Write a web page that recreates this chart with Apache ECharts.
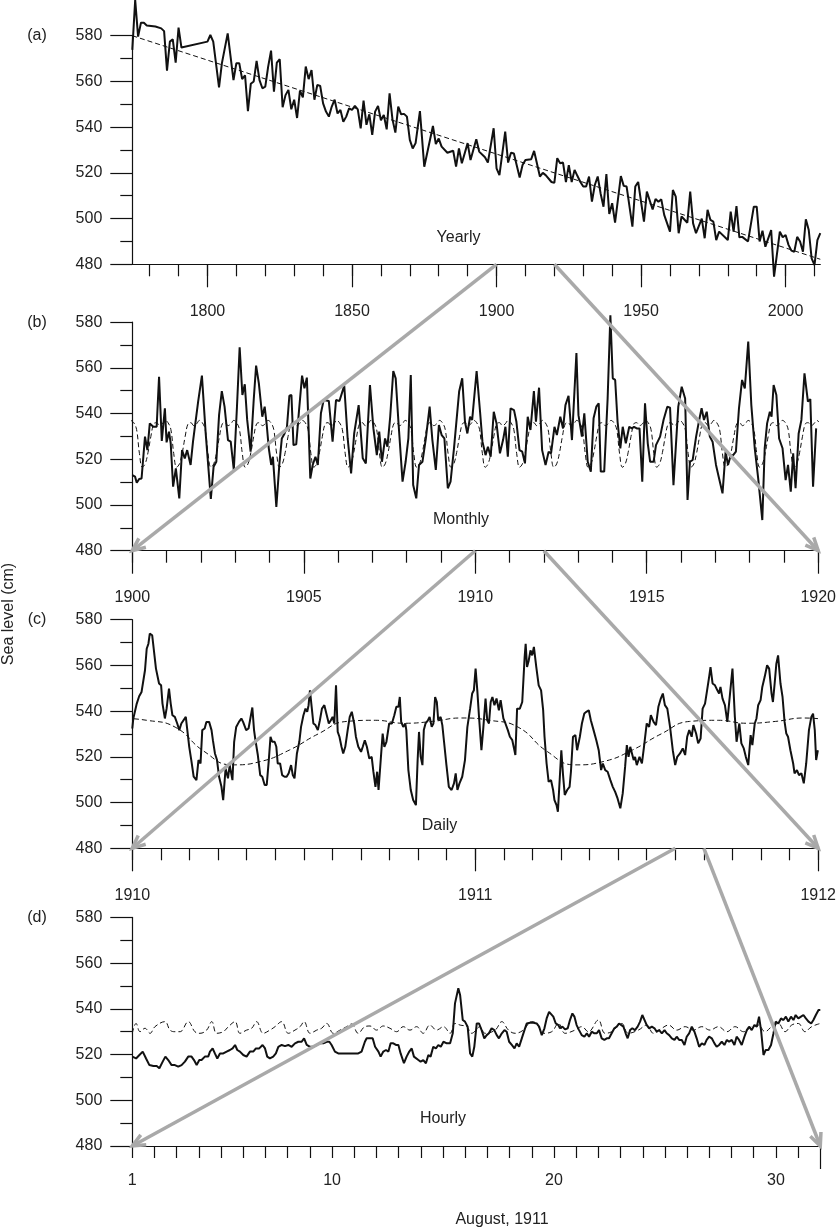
<!DOCTYPE html>
<html>
<head>
<meta charset="utf-8">
<script src="https://cdn.jsdelivr.net/npm/echarts@6/dist/echarts.min.js"></script>
<style>
  html, body { margin: 0; padding: 0; background: #fff; }
  #chart { width: 839px; height: 1231px; }
</style>
</head>
<body>
<div id="chart"></div>
<script>
// ---- data ----
// (a) yearly mean sea level, [year, cm]
var yearly = [
  [1774,573.8],[1775,595.6],[1776,579.6],[1777,585.7],[1778,585.7],[1779,584.5],[1782,584],[1784,583.2],
  [1785,582],[1786,564.7],[1787,577.4],[1788,578.4],[1789,568.2],[1790,583.5],[1791,574.8],[1800,577.4],
  [1801,580.3],[1802,577.4],[1804,557.4],[1805,568],[1807,581],[1809,560.6],[1810,568],[1811,568],
  [1812,561],[1813,562.7],[1814,547],[1815,559],[1816,560],[1817,569],[1818,560.6],[1819,557],
  [1820,557.7],[1821,566.5],[1822,573.5],[1823,555.5],[1824,568.2],[1825,569.7],[1826,548.7],[1827,554],
  [1828,556.3],[1829,547.8],[1830,552],[1831,544],[1832,556],[1833,553],[1834,566.5],[1835,561],
  [1836,565],[1837,552],[1838,558.5],[1839,558],[1840,550.4],[1841,546.8],[1842,544.6],[1843,549],
  [1844,552],[1845,546],[1846,547.5],[1847,542.4],[1848,544.6],[1849,548.2],[1850,547.5],[1851,549.3],
  [1852,547.8],[1853,539.5],[1854,551.6],[1855,541],[1856,545.6],[1857,536.6],[1858,546.8],[1859,549.3],
  [1860,543],[1861,545.3],[1862,539],[1863,554.8],[1864,543.4],[1865,537.6],[1866,549],[1867,545.6],
  [1868,545.8],[1869,544.6],[1870,534.4],[1871,530.7],[1872,533],[1873.5,547],[1875,522.7],[1878,540.5],
  [1879,532.6],[1880,535],[1881,531.5],[1883,528.8],[1885,529.7],[1886,522.7],[1887,530.7],[1888,524.2],
  [1890,533],[1891,525.6],[1893,534.7],[1894,529.3],[1896,526.8],[1897,524.5],[1899,539.5],[1900,522],
  [1901,519],[1903,538],[1904,524.5],[1905,528.8],[1906,528.5],[1908,518],[1909,523.4],[1910,525.6],
  [1912,526],[1913,529.6],[1915,518.4],[1916,520],[1917,519],[1919,516],[1920,515.6],[1921,526.4],
  [1922,524.2],[1923,524.5],[1924,516],[1925,523.4],[1926,516],[1927,521.3],[1928,518.6],[1929,516],
  [1930,514],[1931,514],[1932,518.4],[1933,507.4],[1934,514.7],[1935,518.4],[1936,511],[1937,505.2],
  [1938,519.5],[1939,502],[1940,506.7],[1941,498.2],[1943,518.6],[1944,514.3],[1945,514],[1947,496.5],
  [1948,514],[1949,516],[1951,498.7],[1952,511.8],[1954,504],[1955,508.6],[1956,507.4],[1957,508.4],
  [1958,501.6],[1960,494.3],[1961,512.5],[1962,509.6],[1963,493.6],[1964,500.9],[1966,498.2],[1967,511.8],
  [1968,497.9],[1969,493.6],[1971,500],[1972,491.4],[1973,503.8],[1974,499.4],[1975,498.7],[1976,490.6],
  [1977,494.3],[1980,490.6],[1981,503],[1982,494.3],[1983,505.5],[1984,491.8],[1985,492],[1987,490],
  [1989,505.2],[1990,505.2],[1991,490],[1992,494.7],[1993,487.7],[1995,495],[1996,474.6],[1998,494.3],
  [1999,491.8],[2000,492.8],[2001,488.5],[2002,486],[2003,485.5],[2004,492],[2005,490],[2006,485.5],
  [2007,499.7],[2008,495],[2009,482.6],[2010,479.7],[2011,490.6],[2012,493.6]
];
var yearlyTrend = [[1774,580],[2012,482.2]];

// (b) monthly means 1900-1920, [year, cm]
var monthly = [
  [1900.00,513.1],[1900.08,512.4],[1900.13,509.7],[1900.20,511.4],[1900.27,511.6],[1900.37,529.9],[1900.44,524.0],[1900.51,535.7],
  [1900.61,534.2],[1900.71,534.2],[1900.78,556.1],[1900.86,528.0],[1900.95,542.3],[1901.00,527.4],[1901.07,532.1],[1901.12,527.0],
  [1901.19,508.0],[1901.27,516.0],[1901.37,502.9],[1901.45,524.0],[1901.53,520.4],[1901.60,524.0],[1901.70,517.5],[1901.77,527.7],
  [1901.92,545.2],[1902.03,556.6],[1902.14,531.3],[1902.29,502.6],[1902.37,516.7],[1902.45,518.9],[1902.53,539.3],[1902.61,549.8],
  [1902.69,543.0],[1902.79,528.4],[1902.87,527.7],[1902.96,515.3],[1903.05,542.3],[1903.13,569.0],[1903.21,548.1],[1903.28,552.8],
  [1903.35,537.2],[1903.45,523.3],[1903.54,545.9],[1903.61,561.0],[1903.69,553.2],[1903.79,538.6],[1903.86,543.0],[1903.92,535.0],
  [1903.98,524.8],[1904.05,517.5],[1904.10,521.1],[1904.20,499.2],[1904.29,518.2],[1904.36,529.1],[1904.44,531.3],[1904.51,534.2],
  [1904.58,547.8],[1904.64,548.1],[1904.70,526.2],[1904.78,526.5],[1904.85,539.3],[1904.95,556.6],[1905.02,551.0],[1905.09,555.7],
  [1905.19,511.6],[1905.26,517.5],[1905.34,521.1],[1905.41,517.5],[1905.50,540.1],[1905.58,545.9],[1905.73,545.5],[1905.84,527.7],
  [1905.94,545.9],[1906.04,545.5],[1906.18,552.2],[1906.28,529.1],[1906.38,513.8],[1906.47,531.3],[1906.60,543.7],[1906.72,520.4],
  [1906.81,518.2],[1906.93,552.5],[1907.03,533.5],[1907.13,521.8],[1907.20,532.1],[1907.28,518.9],[1907.37,529.1],[1907.44,525.5],
  [1907.52,538.6],[1907.61,558.6],[1907.68,555.4],[1907.76,536.4],[1907.88,510.2],[1907.97,518.9],[1908.05,529.1],[1908.12,556.8],
  [1908.19,508.7],[1908.28,502.9],[1908.36,517.5],[1908.46,518.9],[1908.56,529.1],[1908.67,543.0],[1908.75,528.4],[1908.85,515.3],
  [1908.94,535.0],[1909.02,530.6],[1909.10,529.1],[1909.20,507.3],[1909.28,510.2],[1909.38,524.8],[1909.53,549.6],[1909.62,555.4],
  [1909.70,536.4],[1909.77,531.3],[1909.85,538.6],[1909.91,537.2],[1910.04,558.6],[1910.14,540.8],[1910.21,527.7],[1910.30,521.8],
  [1910.37,525.5],[1910.45,521.1],[1910.54,540.8],[1910.62,535.7],[1910.72,522.6],[1910.81,528.4],[1910.88,534.2],[1910.95,521.1],
  [1911.03,542.3],[1911.13,541.5],[1911.20,536.4],[1911.29,524.0],[1911.37,523.3],[1911.45,518.2],[1911.53,538.6],[1911.61,532.8],
  [1911.71,549.8],[1911.77,536.4],[1911.86,551.3],[1911.95,524.0],[1912.05,517.5],[1912.14,523.3],[1912.21,522.6],[1912.31,534.2],
  [1912.38,530.6],[1912.48,538.6],[1912.56,533.5],[1912.63,543.7],[1912.72,547.8],[1912.82,528.4],[1912.95,566.5],[1913.01,539.3],
  [1913.11,529.9],[1913.18,540.1],[1913.28,518.9],[1913.37,514.6],[1913.45,537.9],[1913.53,543.0],[1913.60,544.5],[1913.66,514.6],
  [1913.76,514.6],[1913.86,546.6],[1913.94,583.0],[1914.01,555.4],[1914.08,554.7],[1914.15,536.4],[1914.23,524.8],[1914.30,534.2],
  [1914.39,527.0],[1914.49,534.2],[1914.57,533.5],[1914.63,534.2],[1914.71,533.5],[1914.79,533.5],[1914.87,510.2],[1914.95,544.5],
  [1915.03,527.0],[1915.10,518.9],[1915.20,518.9],[1915.27,526.2],[1915.39,529.9],[1915.49,537.2],[1915.60,543.0],[1915.68,542.6],
  [1915.78,508.7],[1915.92,543.0],[1916.02,551.7],[1916.12,546.6],[1916.19,502.2],[1916.26,518.9],[1916.34,519.7],[1916.44,529.9],
  [1916.53,537.2],[1916.60,542.3],[1916.67,537.2],[1916.75,540.8],[1916.84,529.9],[1916.92,527.7],[1917.02,517.5],[1917.11,511.6],
  [1917.21,505.1],[1917.30,523.3],[1917.37,517.5],[1917.45,521.8],[1917.52,521.8],[1917.60,523.3],[1917.69,542.3],[1917.78,554.7],
  [1917.86,551.0],[1917.96,571.5],[1918.05,543.7],[1918.15,524.8],[1918.25,511.6],[1918.37,493.4],[1918.44,524.8],[1918.51,535.7],
  [1918.59,540.8],[1918.64,538.6],[1918.70,552.5],[1918.78,548.1],[1918.86,529.1],[1918.96,524.8],[1919.05,510.9],[1919.12,517.5],
  [1919.20,505.8],[1919.27,522.6],[1919.34,507.3],[1919.43,531.3],[1919.51,537.2],[1919.60,557.6],[1919.70,545.2],[1919.77,546.3],
  [1919.85,508.0],[1919.94,533.5]
];
// mean seasonal cycle (dashed in b and c), Jan..Dec
var seasonalCycle = [536, 533, 522.5, 516.5, 518, 523, 530, 535.5, 536, 534.7, 535.5, 537];

// (c) daily means 1910-1911, [year, cm]
var daily = [
  [1910.000,532.4],[1910.003,536.8],[1910.013,543.3],[1910.020,546.5],[1910.027,548.4],[1910.032,549.1],[1910.037,557.9],[1910.042,567.3],
  [1910.047,569.5],[1910.051,573.9],[1910.058,573.2],[1910.063,573.9],[1910.069,558.6],[1910.073,557.9],[1910.078,552.1],[1910.084,551.3],
  [1910.088,543.3],[1910.095,536.8],[1910.100,541.1],[1910.107,549.9],[1910.112,543.3],[1910.117,538.2],[1910.124,537.5],[1910.131,534.6],
  [1910.137,531.7],[1910.143,534.6],[1910.148,533.9],[1910.156,537.5],[1910.160,536.8],[1910.166,524.4],[1910.172,518.6],[1910.179,511.3],
  [1910.187,509.8],[1910.193,518.6],[1910.199,517.1],[1910.204,531.7],[1910.211,532.4],[1910.216,535.3],[1910.224,535.3],[1910.231,531.7],
  [1910.235,527.3],[1910.241,521.5],[1910.247,518.6],[1910.253,511.3],[1910.260,506.9],[1910.265,501.1],[1910.269,501.1],[1910.272,514.9],
  [1910.279,510.6],[1910.284,516.4],[1910.292,509.8],[1910.297,526.6],[1910.303,533.1],[1910.311,535.3],[1910.318,536.8],[1910.323,535.3],
  [1910.328,536.0],[1910.332,531.7],[1910.339,532.4],[1910.344,533.1],[1910.350,541.6],[1910.355,531.7],[1910.359,527.3],[1910.366,520.8],
  [1910.373,512.0],[1910.379,511.3],[1910.386,507.7],[1910.392,507.7],[1910.398,518.6],[1910.403,528.8],[1910.408,526.6],[1910.415,526.6],
  [1910.420,524.4],[1910.424,517.1],[1910.431,517.1],[1910.437,512.0],[1910.444,511.3],[1910.450,511.3],[1910.456,512.8],[1910.463,516.4],
  [1910.468,512.0],[1910.473,510.6],[1910.480,521.5],[1910.487,526.6],[1910.492,533.1],[1910.499,538.2],[1910.505,541.1],[1910.510,539.7],
  [1910.514,542.6],[1910.518,549.1],[1910.523,541.9],[1910.528,534.6],[1910.534,533.9],[1910.541,531.7],[1910.547,536.0],[1910.553,541.1],
  [1910.560,542.6],[1910.566,538.9],[1910.573,534.6],[1910.579,536.0],[1910.584,537.5],[1910.589,534.6],[1910.594,551.3],[1910.599,530.9],
  [1910.604,528.8],[1910.610,524.4],[1910.615,521.5],[1910.621,524.4],[1910.628,531.7],[1910.634,537.5],[1910.640,539.7],[1910.647,534.6],
  [1910.652,528.8],[1910.659,524.4],[1910.667,522.2],[1910.672,524.4],[1910.678,527.3],[1910.684,524.4],[1910.691,519.3],[1910.698,520.0],
  [1910.703,513.5],[1910.709,506.9],[1910.714,513.5],[1910.718,505.5],[1910.725,520.0],[1910.730,530.2],[1910.735,524.4],[1910.741,526.6],
  [1910.749,534.6],[1910.757,534.6],[1910.764,538.2],[1910.770,541.9],[1910.776,541.9],[1910.780,546.2],[1910.784,535.3],[1910.790,533.1],
  [1910.796,534.6],[1910.799,531.7],[1910.805,514.2],[1910.812,505.5],[1910.819,501.1],[1910.827,498.9],[1910.832,518.6],[1910.836,530.9],
  [1910.841,520.0],[1910.846,516.4],[1910.850,531.7],[1910.855,534.6],[1910.862,536.0],[1910.867,537.5],[1910.873,533.1],[1910.878,534.6],
  [1910.883,546.2],[1910.888,544.0],[1910.892,536.0],[1910.899,537.5],[1910.904,533.9],[1910.909,526.6],[1910.916,516.4],[1910.923,506.9],
  [1910.931,505.5],[1910.938,508.4],[1910.943,512.8],[1910.948,505.5],[1910.954,508.4],[1910.962,511.3],[1910.970,518.6],[1910.977,533.0],
  [1910.985,541.1],[1910.991,547.7],[1910.996,549.1],[1911.001,558.6],[1911.006,549.1],[1911.011,537.5],[1911.018,522.9],[1911.023,531.7],
  [1911.030,545.5],[1911.035,536.0],[1911.040,534.6],[1911.045,544.0],[1911.050,546.2],[1911.056,542.6],[1911.062,545.5],[1911.069,540.4],
  [1911.074,544.8],[1911.082,536.8],[1911.088,534.6],[1911.095,531.7],[1911.101,528.8],[1911.108,527.3],[1911.113,523.7],[1911.117,520.8],
  [1911.122,541.1],[1911.130,541.1],[1911.137,544.0],[1911.144,563.7],[1911.147,569.5],[1911.151,559.3],[1911.156,562.2],[1911.161,566.6],
  [1911.166,564.4],[1911.171,568.1],[1911.178,559.3],[1911.185,551.3],[1911.192,549.1],[1911.198,540.4],[1911.202,528.8],[1911.208,517.1],
  [1911.214,509.1],[1911.221,509.8],[1911.227,505.5],[1911.231,501.1],[1911.237,498.9],[1911.241,496.0],[1911.246,495.3],[1911.251,522.9],
  [1911.256,512.0],[1911.261,503.3],[1911.268,505.5],[1911.275,506.9],[1911.279,513.5],[1911.285,528.8],[1911.292,529.5],[1911.297,522.9],
  [1911.305,528.8],[1911.311,534.6],[1911.318,539.0],[1911.324,539.7],[1911.331,540.4],[1911.337,536.0],[1911.345,531.7],[1911.353,527.3],
  [1911.360,522.9],[1911.367,514.2],[1911.372,517.1],[1911.379,514.2],[1911.386,513.5],[1911.394,509.8],[1911.401,506.9],[1911.408,504.7],
  [1911.415,501.8],[1911.423,497.5],[1911.430,504.0],[1911.437,515.7],[1911.442,525.1],[1911.447,520.0],[1911.452,524.4],[1911.457,521.5],
  [1911.462,518.6],[1911.466,520.0],[1911.471,516.4],[1911.479,520.0],[1911.486,517.1],[1911.492,524.4],[1911.500,534.6],[1911.507,533.1],
  [1911.512,538.2],[1911.520,535.3],[1911.527,533.9],[1911.534,541.9],[1911.541,545.5],[1911.547,547.7],[1911.553,542.6],[1911.560,541.1],
  [1911.568,533.1],[1911.576,522.9],[1911.583,516.4],[1911.589,520.0],[1911.597,521.5],[1911.605,523.7],[1911.612,520.8],[1911.618,528.8],
  [1911.624,531.7],[1911.631,528.8],[1911.636,533.9],[1911.644,530.2],[1911.650,525.9],[1911.657,528.0],[1911.663,541.1],[1911.670,543.3],
  [1911.676,549.1],[1911.682,555.0],[1911.686,559.3],[1911.692,552.1],[1911.699,551.3],[1911.706,549.1],[1911.711,547.7],[1911.715,550.6],
  [1911.721,545.5],[1911.728,542.6],[1911.735,535.3],[1911.742,546.2],[1911.750,558.6],[1911.757,537.5],[1911.762,526.6],[1911.770,534.6],
  [1911.776,525.9],[1911.783,523.7],[1911.789,520.0],[1911.796,516.4],[1911.803,529.5],[1911.808,525.1],[1911.815,534.6],[1911.820,536.8],
  [1911.825,542.6],[1911.832,544.8],[1911.837,550.6],[1911.844,555.0],[1911.851,560.1],[1911.857,558.6],[1911.864,547.7],[1911.868,544.0],
  [1911.873,552.1],[1911.878,560.8],[1911.883,564.4],[1911.890,552.1],[1911.896,546.2],[1911.902,535.3],[1911.907,530.2],[1911.912,528.8],
  [1911.919,522.9],[1911.927,517.1],[1911.931,512.8],[1911.938,514.2],[1911.944,512.0],[1911.951,512.8],[1911.958,508.4],[1911.965,517.1],
  [1911.973,531.7],[1911.980,537.5],[1911.985,538.9],[1911.990,531.7],[1911.994,518.6],[1911.999,522.9]
];

// (d) hourly values, August 1911, [day, cm]
var hourly = [
  [1.00,519.1],[1.17,518.3],[1.32,519.8],[1.47,521.3],[1.62,518.3],[1.77,515.4],[1.95,515.0],[2.10,515.0],[2.22,514.0],[2.37,516.9],
  [2.49,519.1],[2.62,517.6],[2.77,515.4],[2.92,515.4],[3.07,514.7],[3.22,515.4],[3.37,516.9],[3.52,519.1],[3.67,519.1],[3.78,517.6],
  [3.90,515.4],[4.02,517.6],[4.12,517.6],[4.27,519.1],[4.42,519.1],[4.50,521.3],[4.62,522.7],[4.72,520.5],[4.83,518.3],[4.95,520.5],
  [5.10,520.5],[5.25,521.3],[5.40,522.0],[5.52,522.7],[5.63,524.2],[5.73,522.0],[5.85,521.3],[6.00,519.8],[6.15,519.1],[6.30,521.3],
  [6.45,521.3],[6.57,522.7],[6.72,522.7],[6.87,524.2],[6.98,522.7],[7.08,519.1],[7.20,518.3],[7.35,519.1],[7.47,520.5],[7.58,523.4],
  [7.73,524.2],[7.88,523.7],[8.03,524.2],[8.18,523.4],[8.33,524.9],[8.48,525.6],[8.63,525.6],[8.74,527.1],[8.86,524.2],[9.01,523.4],
  [9.16,523.4],[9.31,524.2],[9.46,524.9],[9.61,524.9],[9.76,525.6],[9.88,525.6],[9.98,524.2],[10.13,521.3],[10.28,520.5],[10.51,520.5],
  [10.73,520.5],[10.96,520.5],[11.18,520.5],[11.33,521.3],[11.48,525.6],[11.56,527.1],[11.71,527.1],[11.83,527.1],[11.94,523.4],[12.09,521.3],
  [12.19,519.1],[12.31,521.3],[12.43,522.0],[12.54,521.3],[12.64,524.9],[12.76,524.9],[12.88,524.2],[12.99,524.2],[13.09,520.5],[13.24,516.2],
  [13.36,519.1],[13.48,521.3],[13.59,522.7],[13.69,519.1],[13.78,519.8],[13.89,517.6],[13.99,516.9],[14.11,517.6],[14.23,516.2],[14.34,519.8],
  [14.44,519.1],[14.56,523.4],[14.68,522.7],[14.79,524.2],[14.90,523.4],[15.02,525.6],[15.17,524.9],[15.32,524.9],[15.44,529.3],[15.54,542.4],
  [15.69,549.0],[15.77,546.1],[15.89,535.1],[15.99,534.4],[16.11,532.2],[16.22,520.5],[16.32,519.1],[16.41,523.4],[16.52,533.6],[16.62,533.6],
  [16.74,530.7],[16.86,527.1],[16.97,528.5],[17.07,529.3],[17.19,531.5],[17.31,530.7],[17.42,528.5],[17.52,527.1],[17.65,529.3],[17.77,530.7],
  [17.87,530.0],[17.98,525.6],[18.10,524.2],[18.22,522.7],[18.32,524.9],[18.43,523.4],[18.55,527.1],[18.67,530.7],[18.77,533.6],[18.92,533.9],
  [19.07,533.9],[19.22,533.6],[19.33,532.2],[19.45,528.5],[19.57,531.5],[19.67,535.8],[19.78,538.7],[19.87,539.2],[19.97,536.6],[20.08,533.6],
  [20.20,532.9],[20.27,531.5],[20.38,532.2],[20.50,531.0],[20.62,531.5],[20.72,535.1],[20.83,538.0],[20.92,536.6],[21.02,532.9],[21.13,530.7],
  [21.25,528.5],[21.37,527.8],[21.48,529.3],[21.58,527.8],[21.70,530.0],[21.82,529.3],[21.93,529.3],[22.03,530.7],[22.15,527.1],[22.27,526.4],
  [22.38,527.1],[22.48,527.1],[22.60,529.3],[22.72,531.5],[22.83,532.2],[22.93,533.6],[23.02,534.4],[23.13,532.2],[23.23,529.3],[23.32,527.1],
  [23.43,530.7],[23.53,531.5],[23.65,530.7],[23.77,532.2],[23.88,534.4],[23.98,537.3],[24.07,536.6],[24.18,532.9],[24.29,531.5],[24.41,532.2],
  [24.53,531.5],[24.63,530.0],[24.74,530.7],[24.86,529.3],[24.98,530.7],[25.08,529.3],[25.19,528.5],[25.31,527.1],[25.43,526.4],[25.53,527.8],
  [25.64,526.4],[25.76,526.4],[25.88,524.2],[25.98,527.8],[26.09,529.3],[26.21,532.2],[26.33,530.0],[26.43,527.1],[26.54,523.4],[26.66,524.9],
  [26.78,524.2],[26.88,526.4],[26.99,527.8],[27.11,527.1],[27.23,524.9],[27.33,523.4],[27.44,524.2],[27.56,525.6],[27.68,524.2],[27.79,526.4],
  [27.89,525.6],[28.01,526.4],[28.13,524.2],[28.23,527.8],[28.34,526.4],[28.46,524.2],[28.58,527.8],[28.69,530.7],[28.79,532.2],[28.91,530.7],
  [29.03,532.9],[29.14,532.2],[29.24,536.6],[29.33,530.7],[29.44,519.8],[29.54,522.0],[29.66,522.0],[29.78,524.2],[29.89,529.3],[29.99,534.4],
  [30.11,533.6],[30.23,535.8],[30.34,535.1],[30.45,536.6],[30.56,534.4],[30.68,536.6],[30.79,535.1],[30.89,537.3],[31.01,535.8],[31.13,536.6],
  [31.24,537.3],[31.35,535.8],[31.47,534.4],[31.59,533.6],[31.69,535.1],[31.80,537.3],[31.92,539.5],[32.00,539.5]
];
// (d) dashed predicted tide, [day, cm]
var hourlyTide = [
  [1.00,529.3],[1.17,533.6],[1.35,530.0],[1.57,531.5],[1.80,529.3],[2.02,532.2],[2.47,534.4],[2.70,530.7],[2.92,530.0],[3.15,530.0],
  [3.52,534.4],[3.82,530.0],[4.05,529.3],[4.35,530.7],[4.58,534.4],[4.80,529.3],[5.10,530.0],[5.33,532.2],[5.63,534.4],[5.85,529.3],
  [6.15,530.7],[6.38,531.5],[6.60,534.4],[6.90,529.3],[7.20,530.7],[7.43,532.2],[7.73,534.4],[8.03,529.3],[8.33,530.7],[8.56,532.2],
  [8.74,534.4],[9.01,529.3],[9.31,530.7],[9.53,531.5],[9.76,533.6],[10.06,529.3],[10.36,530.7],[10.66,532.2],[10.88,533.4],[11.18,529.3],
  [11.48,532.2],[11.71,532.5],[12.01,530.7],[12.31,532.5],[12.61,531.5],[12.91,530.0],[13.21,532.2],[13.51,530.7],[13.81,532.2],[14.11,529.3],
  [14.41,532.9],[14.71,530.7],[15.02,532.2],[15.32,529.3],[15.54,533.6],[15.77,532.9],[16.07,532.2],[16.29,529.3],[16.67,532.2],[16.89,529.3],
  [17.35,530.7],[17.65,534.4],[17.95,530.7],[18.25,529.3],[18.62,530.7],[18.99,534.4],[19.22,533.6],[19.52,529.3],[19.90,530.0],[20.20,533.6],
  [20.50,529.3],[20.95,530.7],[21.25,532.2],[21.55,530.0],[22.00,535.1],[22.30,529.3],[22.60,530.0],[23.05,533.6],[23.35,529.3],[23.80,530.7],
  [24.18,532.9],[24.48,529.3],[24.86,531.5],[25.16,532.9],[25.53,530.7],[25.91,532.2],[26.28,530.7],[26.66,532.2],[27.03,530.7],[27.41,532.2],
  [27.79,530.0],[28.16,532.2],[28.54,530.0],[28.91,532.2],[29.21,532.9],[29.51,530.0],[29.81,532.2],[30.11,533.6],[30.41,530.0],[30.71,532.9],
  [31.01,533.6],[31.31,530.0],[31.61,532.2],[32.00,533.6]
];

// axis ranges and labelled ticks
var xRanges = [[1774, 2012], [1900, 1920], [1910, 1912], [1, 32]];
var xLabelValues = [
  [1800, 1850, 1900, 1950, 2000],
  [1900, 1905, 1910, 1915, 1920],
  [1910, 1911, 1912],
  [1, 10, 20, 30]
];
var panelLetters = ['(a)', '(b)', '(c)', '(d)'];
var panelNames = ['Yearly', 'Monthly', 'Daily', 'Hourly'];

function range(a, b, step) {
  var out = [];
  for (var v = a; v <= b + 1e-9; v += step) out.push(+v.toFixed(4));
  return out;
}
// short and long tick positions per panel
var shortTicks = [
  range(1780, 2010, 10),
  range(1900, 1920, 1),
  range(0, 24, 1).map(function (k) { return 1910 + k / 12; }),
  range(1, 31, 1)
];
var longTicks = [
  range(1800, 2000, 50),
  range(1900, 1920, 5),
  [1910, 1911, 1912],
  [32]
];

// tile the mean seasonal cycle over a span of years (with one month either side)
function tileCycle(y0, y1) {
  var out = [[y0 - 0.5 / 12, seasonalCycle[11]]];
  for (var y = y0; y < y1; y++) {
    for (var m = 0; m < 12; m++) out.push([y + (m + 0.5) / 12, seasonalCycle[m]]);
  }
  out.push([y1 + 0.5 / 12, seasonalCycle[0]]);
  return out;
}

var FONT = '"Liberation Sans", Arial, Helvetica, sans-serif';
var INK = '#111';
var GRID_LEFT = 132.3, GRID_W = 688, PANEL_H = 228.6;
var panelTops = [35.7, 322.1, 619.7, 917.4];
var labelMargins = [39, 39, 39, 27];
function plain(v) { return String(v); }

var chart = echarts.init(document.getElementById('chart'), null, { renderer: 'canvas' });

var grids = [], xAxes = [], yAxes = [];
for (var i = 0; i < 4; i++) {
  grids.push({ left: GRID_LEFT, top: panelTops[i], width: GRID_W, height: PANEL_H, containLabel: false });
  yAxes.push({
    gridIndex: i, type: 'value', min: 480, max: 580, interval: 20,
    axisLine: { show: true, lineStyle: { color: INK, width: 1.2 } },
    axisTick: { show: true, length: 22, lineStyle: { color: INK, width: 1.2 } },
    minorTick: { show: true, splitNumber: 2, length: 12, lineStyle: { color: INK, width: 1.2 } },
    splitLine: { show: false },
    axisLabel: { show: true, margin: 30, fontSize: 16, fontFamily: FONT, color: '#222', formatter: plain }
  });
  xAxes.push({
    gridIndex: i, type: 'value', min: xRanges[i][0], max: xRanges[i][1],
    axisLine: { show: true, onZero: false, lineStyle: { color: INK, width: 1.2 } },
    axisTick: { show: true, length: 12, customValues: shortTicks[i], lineStyle: { color: INK, width: 1.2 } },
    axisLabel: { show: true, customValues: xLabelValues[i], margin: labelMargins[i], fontSize: 16,
                 fontFamily: FONT, color: '#222', formatter: plain },
    splitLine: { show: false }
  });
}
// second x axis on each grid: the long ticks only
for (var k = 0; k < 4; k++) {
  xAxes.push({
    gridIndex: k, type: 'value', min: xRanges[k][0], max: xRanges[k][1], position: 'bottom',
    axisLine: { show: false, onZero: false },
    axisTick: { show: true, length: 23, customValues: longTicks[k], lineStyle: { color: INK, width: 1.2 } },
    axisLabel: { show: false },
    splitLine: { show: false }
  });
}

function solid(idx, data) {
  return { type: 'line', xAxisIndex: idx, yAxisIndex: idx, data: data, symbol: 'none', clip: false,
           lineStyle: { color: INK, width: 2 }, z: 3, silent: true };
}
function dashed(idx, data, smooth, clip) {
  return { type: 'line', xAxisIndex: idx, yAxisIndex: idx, data: data, symbol: 'none', clip: clip,
           smooth: smooth, lineStyle: { color: INK, width: 1, type: [5, 3] }, z: 4, silent: true };
}

chart.setOption({
  animation: false,
  backgroundColor: '#fff',
  textStyle: { fontFamily: FONT },
  grid: grids,
  xAxis: xAxes,
  yAxis: yAxes,
  series: [
    solid(0, yearly),
    dashed(0, yearlyTrend, false, false),
    solid(1, monthly),
    dashed(1, tileCycle(1900, 1920), 0.4, true),
    solid(2, daily),
    dashed(2, tileCycle(1910, 1912), 0.5, true),
    solid(3, hourly),
    dashed(3, hourlyTide, 0.4, false)
  ]
});

// ---- annotations: panel letters, names, axis titles, zoom arrows ----
var graphics = [];
function text(str, x, y, opts) {
  var g = { type: 'text', x: x, y: y, z: 50, silent: true,
            style: { text: str, fill: '#222', font: '16px ' + FONT, align: 'center', verticalAlign: 'middle' } };
  if (opts) for (var key in opts) g[key] = opts[key];
  return g;
}
var namePos = [[458.5, 238], [461, 520], [439.5, 826], [443, 1119]];
for (var p = 0; p < 4; p++) {
  graphics.push(text(panelLetters[p], 37, panelTops[p]));
  graphics.push(text(panelNames[p], namePos[p][0], namePos[p][1]));
}
graphics.push(text('Sea level (cm)', 9, 614, { rotation: Math.PI / 2 }));
graphics.push(text('August, 1911', 502, 1220));

// each zoom link: [upper grid, x on upper axis, lower grid, x on lower axis]
var zoomLinks = [
  [0, 1900, 1, 1900], [0, 1920, 1, 1920],
  [1, 1910, 2, 1910], [1, 1912, 2, 1912],
  [2, 1911 + 7 / 12, 3, 1], [2, 1911 + 8 / 12, 3, 32]
];
var GRAY = '#a9a9a9';
zoomLinks.forEach(function (lk) {
  var a = chart.convertToPixel({ gridIndex: lk[0] }, [lk[1], 480]);
  var b = chart.convertToPixel({ gridIndex: lk[2] }, [lk[3], 480]);
  var dx = a[0] - b[0], dy = a[1] - b[1];
  var len = Math.sqrt(dx * dx + dy * dy);
  var ux = dx / len, uy = dy / len;
  var L = 14, ang = 0.42;
  function arm(s) {
    var c = Math.cos(s * ang), sn = Math.sin(s * ang);
    return [b[0] + L * (ux * c - uy * sn), b[1] + L * (ux * sn + uy * c)];
  }
  graphics.push({ type: 'line', z: 40, silent: true,
    shape: { x1: a[0], y1: a[1], x2: b[0], y2: b[1] },
    style: { stroke: GRAY, lineWidth: 3.5 } });
  graphics.push({ type: 'polyline', z: 40, silent: true,
    shape: { points: [arm(1), b, arm(-1)] },
    style: { stroke: GRAY, lineWidth: 3.5, fill: null, lineJoin: 'miter' } });
});

chart.setOption({ graphic: graphics });
</script>
</body>
</html>
